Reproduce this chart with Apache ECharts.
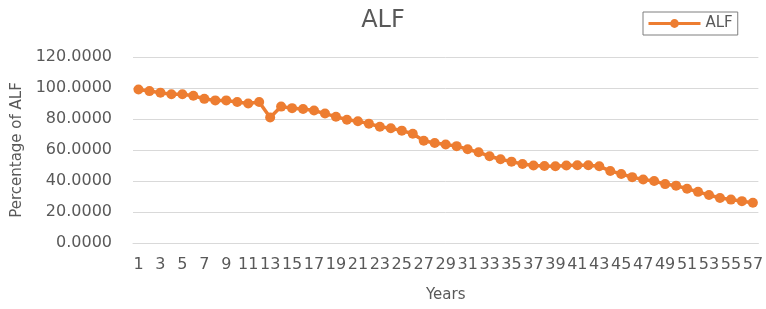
<!DOCTYPE html>
<html>
<head>
<meta charset="utf-8">
<script src="https://cdn.jsdelivr.net/npm/echarts@6/dist/echarts.min.js"></script>
<style>
    html, body { margin: 0; padding: 0; background: #fff; }
    #chart { width: 766px; height: 309px; }
</style>
</head>
<body>
<div id="chart"></div>
<script>
// years 1..57
var years = [];
for (var i = 1; i <= 57; i++) years.push(String(i));

// percentage of ALF
var alf = [
    99, 98, 97, 96, 96, 95, 93, 92, 92, 91,
    90, 91, 81, 88, 87, 86.5, 85.5, 83.5, 81.5, 79.5,
    78.5, 77, 75, 74, 72.5, 70.5, 66, 64.5, 63.5, 62.5,
    60.5, 58.5, 56, 54, 52.5, 51, 50, 49.7, 49.5, 50,
    50.2, 50.2, 49.5, 46.5, 44.5, 42.5, 41, 40, 38, 37,
    35, 33, 31, 29, 28, 27, 26
];

var textColor = '#595959';
var lineColor = '#ED7D31';

var myChart = echarts.init(document.getElementById('chart'));

var option = {
    animation: false,
    title: {
        text: 'ALF',
        left: 'center',
        top: 4,
        textStyle: { color: textColor, fontSize: 24, fontWeight: 'normal', fontFamily: 'DejaVu Sans' }
    },
    legend: {
        data: ['ALF'],
        left: 643,
        top: 12,
        itemWidth: 52,
        itemHeight: 11,
        itemGap: 4,
        padding: [4, 5, 4, 4],
        borderColor: '#7f7f7f',
        borderWidth: 1,
        borderRadius: 0,
        lineStyle: { width: 3 },
        textStyle: { color: textColor, fontSize: 15, fontFamily: 'DejaVu Sans' }
    },
    grid: {
        left: 133,
        top: 57,
        width: 633,
        height: 186,
        containLabel: false
    },
    xAxis: {
        type: 'category',
        data: years,
        boundaryGap: true,
        name: 'Years',
        nameLocation: 'middle',
        nameGap: 45,
        nameTextStyle: { color: textColor, fontSize: 15, fontFamily: 'DejaVu Sans' },
        axisLine: { show: true, lineStyle: { color: '#d9d9d9' } },
        axisTick: { show: false },
        axisLabel: {
            interval: 1,
            hideOverlap: false,
            margin: 14,
            color: textColor,
            fontSize: 16,
            fontFamily: 'DejaVu Sans'
        }
    },
    yAxis: {
        type: 'value',
        min: 0,
        max: 120,
        interval: 20,
        name: 'Percentage of ALF',
        nameLocation: 'middle',
        nameGap: 108,
        nameTextStyle: { color: textColor, fontSize: 15, fontFamily: 'DejaVu Sans' },
        axisLine: { show: false },
        axisTick: { show: false },
        axisLabel: {
            margin: 21,
            color: textColor,
            fontSize: 16,
            fontFamily: 'DejaVu Sans',
            formatter: function (v) { return v.toFixed(4); }
        },
        splitLine: { lineStyle: { color: '#d9d9d9', width: 1 } }
    },
    series: [{
        name: 'ALF',
        type: 'line',
        data: alf,
        symbol: 'circle',
        symbolSize: 10,
        showAllSymbol: true,
        lineStyle: { color: lineColor, width: 3.5 },
        itemStyle: { color: lineColor }
    }]
};

myChart.setOption(option);
</script>
</body>
</html>
